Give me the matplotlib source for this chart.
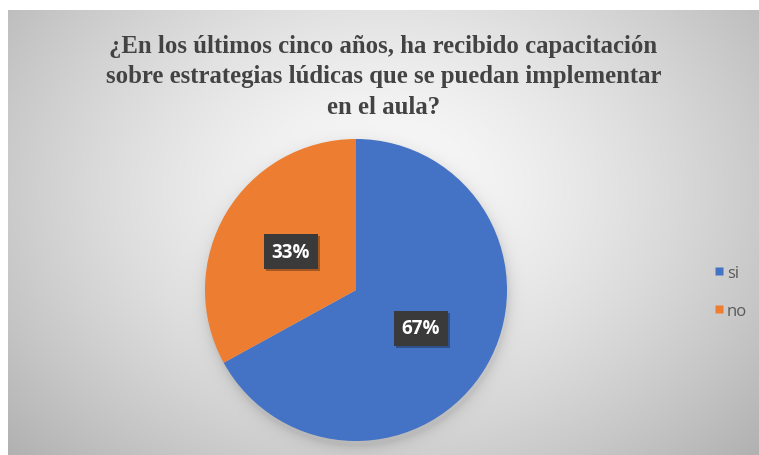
import numpy as np
import matplotlib
matplotlib.use("Agg")
import matplotlib.pyplot as plt
import matplotlib.patheffects as pe

# Chart data
title = "¿En los últimos cinco años, ha recibido capacitación\nsobre estrategias lúdicas que se puedan implementar\nen el aula?"
categories = ["si", "no"]
shares = [67, 33]
colors = ["#4472C4", "#ED7D31"]

W, H = 759, 456
fig = plt.figure(figsize=(W / 100, H / 100), dpi=100)
fig.patch.set_facecolor("white")

# Chart area with a soft radial gradient and a faint pie shadow
x0, y0 = 8, 11
bg = fig.add_axes([x0 / W, 0, (W - x0) / W, (H - y0) / H])
bg.set_axis_off()
yy, xx = np.mgrid[y0:H, x0:W].astype(float)
cx, cy = 383.0, 190.0
d = np.sqrt(((xx - cx) / 430.0) ** 2 + ((yy - cy) / 330.0) ** 2)
val = 0.985 - 0.23 * np.clip(d, 0, 1.2) ** 1.4
pcx, pcy, pr = 356.0, 291.0, 151.0
sd = np.sqrt((xx - pcx - 1) ** 2 + (yy - pcy - 4) ** 2) - pr
shadow = 0.10 * np.exp(-np.clip(sd, 0, None) / 6.0)
val = val - shadow
img = np.dstack([val, val, val])
bg.imshow(np.clip(img, 0, 1), extent=[0, 1, 0, 1], aspect="auto", interpolation="bilinear")
bg.set_xlim(0, 1)
bg.set_ylim(0, 1)

# Title
fig.text(383.5 / W, 1 - 77 / H, title, ha="center", va="center",
         family="Liberation Serif", fontweight="bold", fontsize=17.8,
         color="#434343", linespacing=1.42)

# Pie
ax = fig.add_axes([(pcx - pr) / W, (H - pcy - pr) / H, 2 * pr / W, 2 * pr / H])
ax.set_axis_off()
wedges, texts, autotexts = ax.pie(
    shares, colors=colors, startangle=90, counterclock=False,
    autopct="%d%%", pctdistance=0.5, radius=1.0,
    wedgeprops=dict(edgecolor="none"),
)
ax.set_xlim(-1, 1)
ax.set_ylim(-1, 1)
ax.set_aspect("equal")
for t in autotexts:
    t.set_color("white")
    t.set_fontweight("bold")
    t.set_fontsize(13.5)
    t.set_family("Open Sans")
    t.set_bbox(dict(boxstyle="square,pad=0.4", facecolor="#3a3a3a", edgecolor="none"))
    t.get_bbox_patch().set_path_effects(
        [pe.withSimplePatchShadow(offset=(1.5, -1.5), shadow_rgbFace="black", alpha=0.3)])

# Legend
handles = [plt.Line2D([], [], marker="s", linestyle="none", markersize=6.2,
                      markerfacecolor=c, markeredgecolor="none") for c in colors]
fig.legend(handles, categories, loc="center left",
           bbox_to_anchor=(714 / W, 1 - 293 / H), frameon=False,
           borderpad=0, borderaxespad=0,
           prop=dict(family="Open Sans", size=12), labelcolor="#595959",
           handletextpad=0.2, labelspacing=1.3, handlelength=0.58)

fig.savefig("out.png", dpi=100)
